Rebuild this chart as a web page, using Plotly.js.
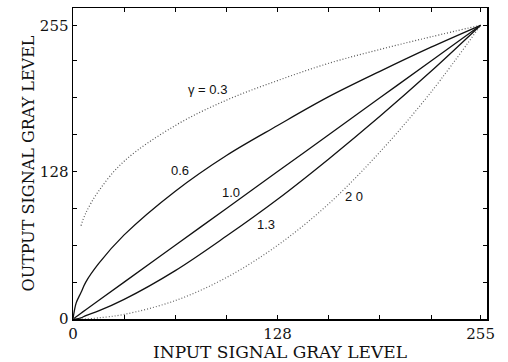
<!DOCTYPE html>
<html><head><meta charset="utf-8">
<script src="https://cdn.plot.ly/plotly-3.0.1.min.js"></script>
<style>html,body{margin:0;padding:0;background:#fff}#c{width:508px;height:362px}</style>
</head><body><div id="c"></div>
<script>
// Input gray levels (x) and read output gray levels per gamma curve
var xIn = [0, 2, 5, 8, 16, 32, 64, 96, 128, 160, 192, 224, 255];
var g03 = [null, null, 81, 92, 111, 137, 168, 190, 207, 222, 234, 245, 255];
var g06 = [0, 14, 23, 32, 48, 73, 111, 142, 168, 193, 215, 236, 255];
var g10 = [0, 2, 5, 8, 16, 32, 64, 96, 128, 160, 192, 224, 255];
var g13 = [0, 0, 1, 3, 7, 17, 42, 72, 104, 139, 176, 215, 255];
var g20 = [0, 0, 0, 0, 1, 4, 16, 36, 64, 100, 145, 197, 255];
var curveLabels = ["\u03b3 = 0.3", "0.6", "1.0", "1.3", "2 0"];
var labelX = [84, 67, 99, 121, 176];
var labelY = [199, 129, 110, 82, 106];
var tickVals = [0, 32, 64, 96, 128, 160, 192, 224, 255];
var tickText = ["0", "", "", "", "128", "", "", "", "255"];

var serif = 'DejaVu Serif, serif';
var traces = [
  {x: xIn, y: g03, mode: 'lines', line: {color: '#555', width: 1.2, dash: '1px,2px'}},
  {x: xIn, y: g06, mode: 'lines', line: {color: '#111', width: 1.3}},
  {x: xIn, y: g10, mode: 'lines', line: {color: '#111', width: 1.3}},
  {x: xIn, y: g13, mode: 'lines', line: {color: '#111', width: 1.3}},
  {x: xIn, y: g20, mode: 'lines', line: {color: '#666', width: 1.2, dash: '1px,2px'}}
];
traces.forEach(function(t){ t.line.shape = 'spline'; t.showlegend = false; t.hoverinfo = 'skip'; });

var ann = curveLabels.map(function(t, i){
  return {x: labelX[i], y: labelY[i], text: t, showarrow: false,
          font: {family: 'Liberation Sans, Arial, sans-serif', size: 13, color: '#111'}};
});

var axisCommon = {
  showgrid: false, zeroline: false, showline: true, linecolor: '#000', linewidth: 1.5,
  ticks: 'inside', ticklen: 4, tickcolor: '#000', tickwidth: 1, mirror: 'ticks',
  tickvals: tickVals, ticktext: tickText,
  tickfont: {family: serif, size: 15, color: '#111'}
};

var layout = {
  width: 508, height: 362,
  margin: {l: 73, r: 21, t: 8, b: 43},
  paper_bgcolor: '#fff', plot_bgcolor: '#fff',
  xaxis: Object.assign({}, axisCommon, {range: [0, 259],
    title: {text: 'INPUT SIGNAL GRAY LEVEL', standoff: 2,
            font: {family: serif, size: 17, color: '#111'}}}),
  yaxis: Object.assign({}, axisCommon, {range: [0, 270],
    title: {text: 'OUTPUT SIGNAL GRAY LEVEL', standoff: 1,
            font: {family: serif, size: 16, color: '#111'}}}),
  annotations: ann
};
Plotly.newPlot('c', traces, layout, {staticPlot: true, displayModeBar: false});
</script>
</body></html>
